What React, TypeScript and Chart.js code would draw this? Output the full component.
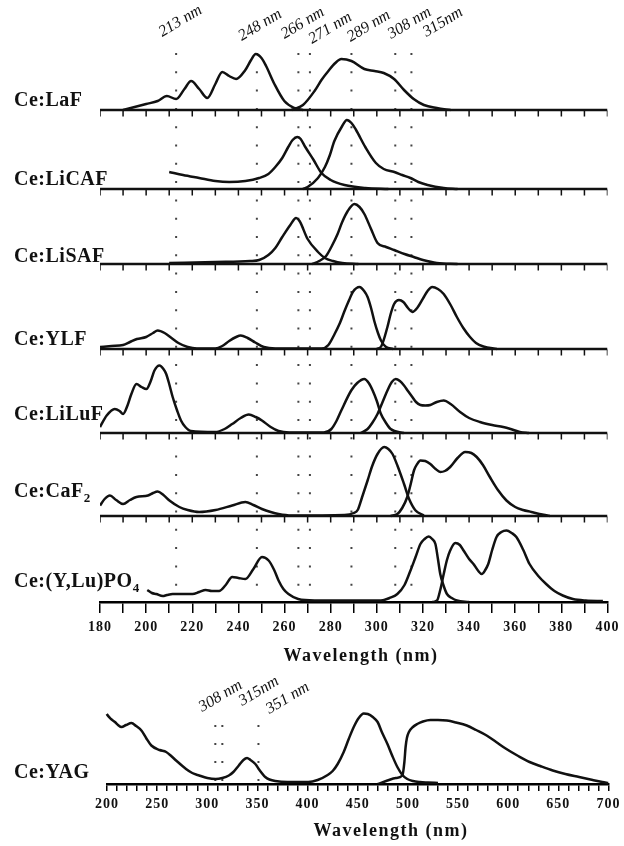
import React, { useEffect, useRef } from "react";
import { Chart, registerables } from "chart.js";

Chart.register(...registerables);

// ---------- axes ----------
const topTickLabels = [180, 200, 220, 240, 260, 280, 300, 320, 340, 360, 380, 400];
const yagTickLabels = [200, 250, 300, 350, 400, 450, 500, 550, 600, 650, 700];

// ---------- panel names (main text + subscript) ----------
const panelNames = ["Ce:LaF", "Ce:LiCAF", "Ce:LiSAF", "Ce:YLF", "Ce:LiLuF", "Ce:CaF", "Ce:(Y,Lu)PO"];
const panelSubs = ["", "", "", "", "", "2", "4"];

// ---------- reference wavelengths ----------
const refLinesNm = [213, 248, 266, 271, 289, 308, 315];
const refLabels = ["213 nm", "248 nm", "266 nm", "271 nm", "289 nm", "308 nm", "315nm"];
const yagRefNm = [308, 315, 351];
const yagRefLabels = ["308 nm", "315nm", "351 nm"];

// ---------- spectra: wavelength (nm) / intensity (a.u.) ----------
// Ce:LaF
const lafAbsNm = [190, 195, 200, 205, 209, 213, 216.6, 219.5, 223, 226.5, 230, 233, 236, 239, 243, 245.5, 247.5, 250, 252, 255.6, 259.9, 264.2, 268];
const lafAbs = [0, 3, 6, 9, 14, 11, 21, 29, 21, 12, 26, 38, 34, 31, 40, 50, 56, 52, 44, 26, 9, 2, 0];
const lafEmNm = [263, 268, 273, 276, 279, 282, 284.6, 289, 294.6, 299, 303, 307.5, 311.8, 316, 320.4, 326, 332];
const lafEm = [0, 5, 19, 30, 39, 47, 51, 49, 41, 39, 37, 31, 20, 11, 5, 2, 0];

// Ce:LiCAF
const licafAbsNm = [210, 216, 223, 230, 236, 243, 249, 253, 256, 259, 261.6, 263.5, 265.5, 267, 269, 272.6, 276, 280, 286, 295, 305];
const licafAbs = [17, 14, 11, 8, 7, 8, 11, 15, 22, 31, 42, 49, 52, 50, 42, 29, 16, 9, 4, 1, 0];
const licafEmNm = [268, 270, 274.5, 277.5, 279.5, 281.6, 285, 287, 289, 291, 295, 299.6, 303, 307.6, 311, 314.6, 318, 322, 329, 335];
const licafEm = [0, 2, 11, 22, 33, 48, 63, 69, 66, 59, 42, 26, 20, 17, 14, 11, 7, 4, 1, 0];

// Ce:LiSAF
const lisafAbsNm = [210, 230, 245, 249, 253, 256, 259, 262.5, 265, 266.5, 270, 274.5, 277.5, 281, 285, 292];
const lisafAbs = [1, 2, 3, 4, 9, 16, 27, 39, 46, 43, 25, 12, 6, 3, 1, 0];
const lisafEmNm = [272, 275, 278, 280.5, 283, 285, 287.4, 290.3, 292.5, 294.6, 297.5, 300.3, 304, 307.5, 312, 316, 320, 326, 335];
const lisafEm = [0, 3, 8, 18, 30, 42, 53, 60, 57, 50, 35, 21, 17, 14, 10, 7, 4, 1, 0];

// Ce:YLF
const ylfAbsNm = [180, 185, 190, 193, 196, 200, 203, 205, 208, 211, 214, 218, 222, 230, 233, 236, 239, 241, 244, 247.3, 251, 256, 276, 279, 281.7, 284, 286, 288, 289.6, 292.5, 294.5, 296, 297.5, 298.9, 300.5, 301.8, 304, 307];
const ylfAbs = [2, 3, 4, 7, 10, 12, 16, 18.5, 16, 11, 6, 2, 0.5, 0.5, 3, 8, 12, 13.5, 11, 6.5, 2, 0.5, 0.5, 4, 15, 26, 38, 49, 57, 62, 58, 52, 41, 28, 16, 8.5, 2, 0];
const ylfEmNm = [300, 302, 304.6, 306, 307.5, 309.6, 311.5, 313.5, 315.4, 317.5, 320.4, 322, 324, 326.5, 329, 332, 334.7, 337.5, 340.4, 343, 346.2, 352];
const ylfEm = [0, 3, 22, 35, 45, 49, 47, 41, 37, 41, 52, 58, 62, 60, 55, 44, 32, 21, 12, 6, 2.5, 0];

// Ce:LiLuF
const liluAbsNm = [180, 182.9, 186.4, 188.5, 190, 192, 193.6, 195.8, 198, 200.1, 202, 203.6, 205.8, 207.5, 208.7, 210, 211.5, 213.5, 215.1, 217, 219.4, 230, 234, 237.3, 241, 244.5, 247.5, 250.2, 254, 257.4, 262, 277, 280.3, 282.5, 284.6, 288.9, 291.5, 294.6, 296.5, 298.2, 300, 301.8, 304, 306, 311.7];
const liluAbs = [6, 17.5, 24, 22, 19, 28, 39, 49, 46, 44, 52, 62.5, 67.5, 64, 59, 49, 36, 22, 12.5, 6, 2, 1, 4, 9, 15, 18.5, 16, 12.5, 6, 2, 0.5, 0.5, 4, 12, 22.5, 42.5, 50, 54, 50, 42.5, 32, 19, 10, 4, 0];
const liluEmNm = [293, 296, 298, 300.3, 302.5, 304.6, 306.5, 308.2, 310, 311.8, 313.5, 315.4, 317, 318.9, 321, 323.2, 326, 329, 332, 336.1, 340, 344.7, 350, 354.8, 358, 362, 366];
const liluEm = [0, 4, 10, 19, 31, 42.5, 51, 54, 52, 47.5, 42, 36, 31, 28, 27.5, 28, 31, 32.5, 29, 21, 15, 11, 8, 6, 4, 1, 0];

// Ce:CaF2
const cafAbsNm = [180, 182, 184.3, 187, 190, 193, 195.8, 200.8, 203, 205, 207.5, 210.1, 214.4, 218, 223, 230.1, 237.3, 243, 246.5, 250.2, 254, 257.4, 263, 286, 290, 291.7, 293.5, 296, 298, 300.3, 303.2, 305, 306.8, 309, 311.8, 314, 316.8, 320.4];
const cafAbs = [10.5, 17, 20.5, 16, 12, 16, 19, 20.5, 23, 24.5, 21, 15.5, 9, 6, 4, 6, 10.5, 14, 11, 7, 4, 2, 0.5, 1, 3, 6, 18, 35.5, 50, 62, 69, 67, 62, 50, 32, 17, 5.5, 0.5];
const cafEmNm = [306, 308.9, 311, 313.2, 314.8, 316.1, 317.5, 318.9, 321, 323.2, 325.5, 327.5, 329.5, 331.8, 335, 338.3, 341, 343.3, 346, 349, 352.5, 356.2, 360, 363.4, 367, 370.5, 375];
const cafEm = [0, 2, 8, 19, 33, 45.5, 52, 55.5, 55, 52, 47, 44, 45, 49, 58, 64, 63, 59, 51, 39, 26, 15.5, 9, 6, 4, 2, 0];

// Ce:(Y,Lu)PO4
const ypoAbsNm = [200.5, 202.5, 204.4, 207.2, 209, 211.5, 216, 220.1, 223, 225.8, 228.5, 231.6, 234.5, 237.3, 240, 243, 246.5, 250.2, 253.1, 255.5, 257.4, 259.5, 261.7, 265.9, 273, 290, 301.8, 305.5, 308.9, 312, 314.6, 316.8, 318.9, 320.7, 322.5, 324, 325.4, 326.5, 327.5, 329, 330.4, 332.5, 334.7, 340];
const ypoAbs = [12, 9, 8, 6, 7, 8, 8, 8, 10, 12, 11, 11, 17, 25, 24, 23, 33, 45, 41.5, 32, 21.5, 13, 8, 3, 1.5, 1.5, 1.5, 4, 8, 17, 31.5, 45, 58, 63, 65.5, 63, 58, 43, 28, 16, 8, 4, 1.5, 0];
const ypoEmNm = [324, 326.1, 327.5, 329, 330.4, 331.8, 334, 336, 337.6, 340, 341.9, 344, 345.5, 347, 348.3, 350, 351.9, 354, 356.2, 358.5, 360.5, 363.5, 366.2, 370, 373.4, 377, 380.6, 385, 390.6, 398];
const ypoEm = [0, 1.5, 12, 28, 42, 51.5, 59, 57, 51.5, 43, 38, 31, 28, 32, 38, 52, 65, 70, 71.5, 69, 65, 52, 38, 26, 18, 11, 6.5, 3, 1.5, 1];

// Ce:YAG
const yagAbsNm = [195, 199.7, 204, 207.9, 211, 214.5, 219, 224.4, 229, 234.3, 239, 244.2, 252.4, 259, 264, 268.9, 278.8, 285, 291.9, 300, 308.4, 315, 321.5, 326, 331.4, 336, 339.6, 343, 347.9, 352, 357.8, 362, 367.7, 380, 400.6, 410, 420, 425, 430, 436, 441, 446, 451, 456, 460, 465, 469.8, 474, 479.6, 484.5, 489.5, 494.5, 499.4, 505, 512, 520, 530];
const yagAbs = [80, 70, 65, 62, 59, 57, 59, 61, 58, 53.5, 46, 38.5, 34, 32, 28, 23.5, 15, 11, 8.5, 6, 5, 6, 8.5, 12, 18.5, 24, 26, 24, 20, 14, 7, 4.5, 3, 2, 2, 4, 9, 13, 20, 32, 45, 57, 66, 70.5, 70, 67, 62, 52, 40, 28, 17, 9, 5, 3, 2, 1.5, 1];
const yagEmNm = [470, 479.6, 488, 494.5, 496.5, 497.7, 499, 501, 505, 509.3, 515, 522.4, 530, 538.9, 548, 558.7, 568, 578.5, 588, 598.2, 610, 621.3, 633, 644.4, 657, 670.7, 682, 693.8, 700];
const yagEm = [0, 3.5, 6, 8.5, 22, 37, 46, 52, 57, 60, 62.5, 64, 64, 63.5, 61.5, 58.5, 54, 48.5, 42, 35, 28, 22, 17.5, 13.5, 10, 7, 4.5, 2, 1];

const panelSpectra = [
  [lafAbsNm, lafAbs, lafEmNm, lafEm],
  [licafAbsNm, licafAbs, licafEmNm, licafEm],
  [lisafAbsNm, lisafAbs, lisafEmNm, lisafEm],
  [ylfAbsNm, ylfAbs, ylfEmNm, ylfEm],
  [liluAbsNm, liluAbs, liluEmNm, liluEm],
  [cafAbsNm, cafAbs, cafEmNm, cafEm],
  [ypoAbsNm, ypoAbs, ypoEmNm, ypoEm],
];

// ---------- styling / layout ----------
const INK = "#111";
const DOT = "#444";
const SERIF = "'Liberation Serif', 'Times New Roman', 'DejaVu Serif', serif";
// vertical offset (a.u.) of every panel's baseline on the shared intensity axis
const panelBase = [492, 413, 338, 253, 169, 86, 0];
const labelLift = [4, 4, 2, 4, 13, 19, 15];
const refDx = [-14, -15, -14, 2, -1, -4, 15];
const refY = [37, 41, 39, 44, 42, 39, 37];
const yagRefDx = [-13, 20, 11];
const yagRefY = [42, 36, 44];

const pts = (nm: number[], v: number[], base: number) => nm.map((x, i) => ({ x, y: base + v[i] }));

const curve = (nm: number[], v: number[], base: number) => ({
  data: pts(nm, v, base),
  borderColor: INK,
  borderWidth: 2.5,
  pointRadius: 0,
  cubicInterpolationMode: "monotone" as const,
  fill: false,
  order: 1,
});

const straight = (data: { x: number; y: number }[], extra: any = {}) => ({
  data,
  borderColor: INK,
  borderWidth: 2.5,
  pointRadius: 0,
  tension: 0,
  fill: false,
  order: 2,
  ...extra,
});

const spacingPlugin = {
  id: "spacing",
  beforeDraw(chart: any) {
    chart.ctx.letterSpacing = "1px";
  },
};

function drawRotated(ctx: CanvasRenderingContext2D, text: string, x: number, y: number) {
  ctx.save();
  ctx.translate(x, y);
  ctx.rotate((-31 * Math.PI) / 180);
  ctx.font = `italic 16px ${SERIF}`;
  ctx.letterSpacing = "0px";
  ctx.fillStyle = INK;
  ctx.textAlign = "left";
  ctx.textBaseline = "alphabetic";
  ctx.fillText(text, 0, 0);
  ctx.restore();
}

function drawName(ctx: CanvasRenderingContext2D, main: string, sub: string, x: number, y: number) {
  ctx.save();
  ctx.fillStyle = INK;
  ctx.textAlign = "left";
  ctx.textBaseline = "alphabetic";
  ctx.letterSpacing = "0.5px";
  ctx.font = `bold 20px ${SERIF}`;
  ctx.fillText(main, x, y);
  if (sub) {
    const w = ctx.measureText(main).width;
    ctx.font = `bold 13px ${SERIF}`;
    ctx.fillText(sub, x + w, y + 5);
  }
  ctx.restore();
}

function drawCaption(ctx: CanvasRenderingContext2D, text: string, x: number, y: number) {
  ctx.save();
  ctx.fillStyle = INK;
  ctx.font = `bold 18px ${SERIF}`;
  ctx.letterSpacing = "1.5px";
  ctx.textAlign = "center";
  ctx.textBaseline = "middle";
  ctx.fillText(text, x, y);
  ctx.restore();
}

function topConfig(): any {
  const datasets: any[] = [];
  panelSpectra.forEach(([aNm, a, eNm, e], i) => {
    datasets.push(curve(aNm, a, panelBase[i]));
    datasets.push(curve(eNm, e, panelBase[i]));
  });
  // baselines and short tick marks of the upper panels
  const tickNm: number[] = [];
  for (let w = 180; w <= 400; w += 10) tickNm.push(w);
  panelBase.slice(0, 6).forEach((b) => {
    datasets.push(straight([{ x: 180, y: b }, { x: 400, y: b }]));
  });
  datasets.push({
    data: panelBase.slice(0, 6).flatMap((b) => tickNm.map((x) => ({ x, y: b - 3.5 }))),
    showLine: false,
    pointStyle: "line",
    rotation: 90,
    pointRadius: 3,
    pointBorderWidth: 1.5,
    pointBorderColor: INK,
    order: 3,
  });
  // dotted reference wavelengths
  refLinesNm.forEach((nm) => {
    datasets.push(
      straight([{ x: nm, y: 549 }, { x: nm, y: 0 }], {
        borderColor: DOT,
        borderWidth: 2,
        borderDash: [2, 16.3],
        borderCapStyle: "butt",
        order: 5,
      })
    );
  });

  const annot = {
    id: "topAnnot",
    afterDraw(chart: any) {
      const { ctx, scales } = chart;
      const xs = scales.x;
      const ys = scales.y;
      panelNames.forEach((n, i) => {
        drawName(ctx, n, panelSubs[i], 14, ys.getPixelForValue(panelBase[i]) - labelLift[i]);
      });
      refLabels.forEach((t, i) => {
        drawRotated(ctx, t, xs.getPixelForValue(refLinesNm[i]) + refDx[i], refY[i]);
      });
      drawCaption(ctx, "Wavelength (nm)", 361, 656);
    },
  };

  return {
    type: "line",
    data: { datasets },
    plugins: [spacingPlugin, annot],
    options: {
      animation: false,
      responsive: false,
      events: [],
      layout: { padding: { left: 100, right: 12, top: 40, bottom: 0 } },
      plugins: { legend: { display: false }, tooltip: { enabled: false } },
      scales: {
        x: {
          type: "linear",
          min: 180,
          max: 400,
          afterFit: (s: any) => {
            s.height = 68;
          },
          border: { display: true, color: "#000", width: 2.5 },
          grid: { display: true, drawOnChartArea: false, drawTicks: true, tickLength: 11, color: "#000", lineWidth: 1.5 },
          ticks: {
            stepSize: 10,
            autoSkip: false,
            maxRotation: 0,
            padding: 6,
            color: INK,
            font: { family: SERIF, size: 14, weight: "bold" },
            callback: (v: number) => (topTickLabels.includes(v) ? String(v) : ""),
          },
        },
        y: { type: "linear", display: false, min: 0, max: 562 },
      },
    },
  };
}

function yagConfig(): any {
  const datasets: any[] = [
    { ...curve(yagAbsNm, yagAbs, 0), clip: false },
    curve(yagEmNm, yagEm, 0),
  ];
  yagRefNm.forEach((nm) => {
    datasets.push(
      straight([{ x: nm, y: 59 }, { x: nm, y: 0 }], {
        borderColor: DOT,
        borderWidth: 2,
        borderDash: [2, 16],
        borderCapStyle: "butt",
        order: 5,
      })
    );
  });

  const annot = {
    id: "yagAnnot",
    afterDraw(chart: any) {
      const { ctx, scales } = chart;
      const xs = scales.x;
      const ys = scales.y;
      drawName(ctx, "Ce:YAG", "", 14, ys.getPixelForValue(0) - 6);
      yagRefLabels.forEach((t, i) => {
        drawRotated(ctx, t, xs.getPixelForValue(yagRefNm[i]) + yagRefDx[i], yagRefY[i]);
      });
      drawCaption(ctx, "Wavelength (nm)", 391, 161);
    },
  };

  return {
    type: "line",
    data: { datasets },
    plugins: [spacingPlugin, annot],
    options: {
      animation: false,
      responsive: false,
      events: [],
      layout: { padding: { left: 107, right: 11, top: 20, bottom: 0 } },
      plugins: { legend: { display: false }, tooltip: { enabled: false } },
      scales: {
        x: {
          type: "linear",
          min: 200,
          max: 700,
          afterFit: (s: any) => {
            s.height = 62;
          },
          border: { display: true, color: "#000", width: 2.5 },
          grid: { display: true, drawOnChartArea: false, drawTicks: true, tickLength: 7, color: "#000", lineWidth: 1.5 },
          ticks: {
            stepSize: 10,
            autoSkip: false,
            maxRotation: 0,
            padding: 5,
            color: INK,
            font: { family: SERIF, size: 14, weight: "bold" },
            callback: (v: number) => (yagTickLabels.includes(v) ? String(v) : ""),
          },
        },
        y: { type: "linear", display: false, min: 0, max: 94 },
      },
    },
  };
}

export default function App() {
  const topRef = useRef<HTMLCanvasElement>(null);
  const yagRef = useRef<HTMLCanvasElement>(null);

  useEffect(() => {
    const top = new Chart(topRef.current as HTMLCanvasElement, topConfig());
    const yag = new Chart(yagRef.current as HTMLCanvasElement, yagConfig());
    return () => {
      top.destroy();
      yag.destroy();
    };
  }, []);

  return (
    <div style={{ position: "absolute", left: 0, top: 0, width: 624, height: 846, background: "#fff" }}>
      <canvas ref={topRef} width={624} height={670} style={{ position: "absolute", left: 0, top: 0 }} />
      <canvas ref={yagRef} width={624} height={176} style={{ position: "absolute", left: 0, top: 670 }} />
    </div>
  );
}
